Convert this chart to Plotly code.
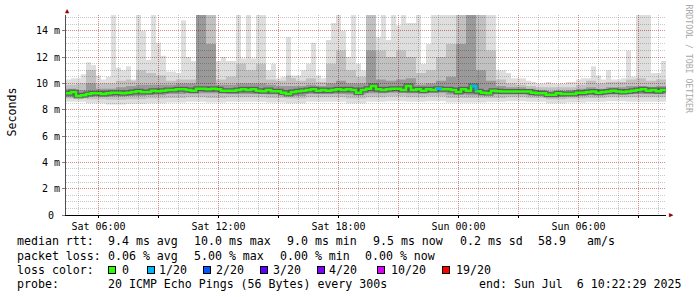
import pandas as pd
import plotly.graph_objects as go

# ---------------- data ----------------
END = pd.Timestamp("2025-07-06 10:22:29")
START = END - pd.Timedelta(hours=30)
t15 = pd.date_range(START, periods=121, freq="15min")
t30 = pd.date_range(START, periods=61, freq="30min")
t60 = pd.date_range(START, periods=31, freq="60min")

# median rtt (ms), 15-min bins
median_rtt = [9.25, 9.35, 9.05, 9.1, 9.2, 9.25, 9.25, 9.2, 9.25, 9.3,
              9.3, 9.25, 9.3, 9.35, 9.4, 9.35, 9.35, 9.45, 9.4, 9.45,
              9.5, 9.5, 9.55, 9.55, 9.5, 9.45, 9.6, 9.6, 9.55, 9.6,
              9.55, 9.45, 9.45, 9.45, 9.5, 9.55, 9.5, 9.55, 9.45, 9.4,
              9.5, 9.4, 9.4, 9.3, 9.2, 9.35, 9.4, 9.45, 9.5, 9.55,
              9.45, 9.5, 9.45, 9.5, 9.55, 9.5, 9.55, 9.5, 9.3, 9.5,
              9.6, 9.8, 9.55, 9.5, 9.55, 9.6, 9.6, 9.5, 9.8, 9.5,
              9.55, 9.45, 9.55, 9.5, 9.6, 9.55, 9.55, 9.5, 9.35, 9.55,
              9.45, 9.8, 9.4, 9.3, 9.25, 9.45, 9.4, 9.38, 9.38, 9.38,
              9.38, 9.38, 9.38, 9.3, 9.25, 9.25, 9.13, 9.13, 9.25, 9.2,
              9.2, 9.2, 9.3, 9.3, 9.35, 9.38, 9.3, 9.35, 9.38, 9.45,
              9.38, 9.35, 9.38, 9.45, 9.5, 9.55, 9.45, 9.5, 9.4, 9.5]

# lost pings per 15-min bin
loss = [0] * 74 + [1] + [0] * 6 + [1] + [0] * 38

# highest ping (ms), 15-min bins
rtt_max = [10.3, 10.4, 10.4, 10.7, 11.6, 11.4, 10.6, 10.3, 10.5, 15.2,
           11.2, 11.0, 11.3, 10.2, 15.2, 14.0, 11.8, 15.2, 13.1, 12.1,
           10.9, 10.9, 10.8, 14.8, 12.0, 11.7, 15.2, 15.2, 15.2, 15.2,
           11.7, 12.0, 11.7, 11.7, 15.2, 11.9, 15.2, 11.9, 15.2, 15.2,
           11.0, 11.5, 10.4, 10.5, 13.5, 10.4, 10.6, 11.0, 11.5, 13.1,
           10.6, 10.4, 13.3, 14.6, 15.2, 14.0, 12.0, 15.2, 11.5, 11.0,
           15.2, 15.2, 13.5, 15.2, 13.3, 15.2, 14.4, 15.2, 14.6, 14.6,
           15.2, 11.5, 13.0, 15.2, 15.2, 15.2, 15.2, 15.2, 15.2, 15.2,
           15.2, 15.2, 15.2, 15.2, 15.2, 15.2, 11.0, 11.0, 10.8, 10.4,
           10.4, 10.4, 10.2, 10.1, 10.0, 10.0, 10.1, 10.0, 10.0, 10.0,
           10.1, 10.1, 10.3, 10.4, 10.4, 11.3, 10.6, 10.3, 11.0, 10.3,
           10.3, 10.4, 12.5, 10.5, 15.2, 15.2, 15.2, 10.8, 10.8, 11.7]

# upper smoke bands (ms), 30-min bins
rtt_hi2 = [9.9, 10.0, 11.0, 10.0, 10.0, 10.2, 10.3, 11.0, 10.8, 10.6,
           10.2, 10.3, 10.3, 15.2, 15.2, 10.3, 10.5, 11.5, 11.0, 11.5,
           10.3, 10.2, 10.6, 10.2, 10.4, 10.1, 11.5, 12.5, 11.0, 10.5,
           15.2, 12.5, 12.0, 12.5, 12.0, 10.8, 11.0, 12.0, 13.0, 15.2,
           15.2, 15.2, 12.5, 10.3, 10.0, 9.9, 9.8, 9.7, 9.7, 9.7,
           9.7, 9.9, 10.2, 10.0, 10.1, 10.1, 10.3, 10.4, 10.2, 10.3]
rtt_hi3 = [9.6, 9.5, 10.0, 9.6, 9.6, 9.7, 9.8, 9.9, 9.9, 9.9,
           9.9, 10.0, 10.0, 15.2, 13.0, 9.9, 9.9, 10.0, 10.0, 10.0,
           9.9, 9.8, 9.8, 9.8, 9.9, 9.8, 10.0, 10.2, 10.0, 10.0,
           12.5, 10.3, 10.2, 10.3, 10.4, 9.9, 10.0, 10.2, 10.5, 13.0,
           15.2, 11.0, 10.2, 9.8, 9.7, 9.7, 9.6, 9.5, 9.4, 9.45,
           9.5, 9.6, 9.7, 9.6, 9.7, 9.7, 9.8, 9.8, 9.75, 9.8]

# lower smoke bands (ms), 1-hour bins
rtt_min = [8.6, 8.5, 8.4, 8.45, 8.5, 8.55, 8.6, 8.55, 8.6, 8.6,
           8.55, 8.5, 8.6, 8.6, 8.5, 8.6, 8.65, 8.6, 8.65, 8.55,
           8.55, 8.6, 8.65, 8.6, 8.5, 8.55, 8.6, 8.65, 8.6, 8.6]
rtt_lo2 = [8.85, 8.8, 8.75, 8.8, 8.85, 8.9, 8.95, 8.9, 8.95, 8.95,
           8.9, 8.85, 8.95, 8.95, 8.85, 8.95, 9.0, 8.95, 9.0, 8.9,
           8.9, 8.9, 8.95, 8.9, 8.8, 8.85, 8.9, 8.95, 8.95, 8.95]
rtt_lo3 = [8.95, 9.0, 9.0, 9.05, 9.1, 9.2, 9.25, 9.25, 9.2, 9.2,
           9.15, 9.05, 9.2, 9.2, 9.15, 9.25, 9.3, 9.25, 9.3, 9.15,
           9.1, 9.15, 9.15, 9.1, 9.0, 9.05, 9.1, 9.15, 9.2, 9.2]

# axis ticks
x_tick_times = ["2025-07-05 06:00", "2025-07-05 09:00", "2025-07-05 12:00",
                "2025-07-05 15:00", "2025-07-05 18:00", "2025-07-05 21:00",
                "2025-07-06 00:00", "2025-07-06 03:00", "2025-07-06 06:00",
                "2025-07-06 09:00"]
x_tick_labels = ["Sat 06:00", "", "Sat 12:00", "", "Sat 18:00", "",
                 "Sun 00:00", "", "Sun 06:00", ""]
y_tick_vals = [0, 2, 4, 6, 8, 10, 12, 14]
y_tick_labels = ["0\u00a0", "2 m", "4 m", "6 m", "8 m", "10 m", "12 m", "14 m"]

# legend
loss_counts = [0, 1, 2, 3, 4, 10, 19]
loss_labels = ["0", "1/20", "2/20", "3/20", "4/20", "10/20", "19/20"]
loss_colors = ["#26ff00", "#00b8ff", "#0059ff", "#5e00ff", "#7e00ff", "#dd00ff", "#ff0000"]
rtt_stats = ["9.4 ms avg", "10.0 ms max", "9.0 ms min", "9.5 ms now",
             "0.2 ms sd", "58.9", "am/s"]
loss_stats = ["0.06 % avg", "5.00 % max", "0.00 % min", "0.00 % now"]
probe_text = "20 ICMP Echo Pings (56 Bytes) every 300s"
end_text = "end: Sun Jul  6 10:22:29 2025"

# ---------------- figure ----------------
def ext(v):
    return list(v) + [v[-1]]

fig = go.Figure()

def band(tx, lo_tx, lo, hi, color):
    fig.add_trace(go.Scatter(x=lo_tx, y=ext(lo), mode="lines", line=dict(width=0, shape="hv"),
                             hoverinfo="skip", showlegend=False))
    fig.add_trace(go.Scatter(x=tx, y=ext(hi), mode="lines", line=dict(width=0, shape="hv"),
                             fill="tonexty", fillcolor=color, hoverinfo="skip", showlegend=False))

band(t15, t60, rtt_min, rtt_max, "rgba(0,0,0,0.13)")
band(t30, t60, rtt_lo2, rtt_hi2, "rgba(0,0,0,0.13)")
band(t30, t60, rtt_lo3, rtt_hi3, "rgba(0,0,0,0.2)")

fig.add_trace(go.Scatter(x=t15, y=ext(median_rtt), mode="lines",
                         line=dict(width=5, color="rgba(50,50,50,0.55)", shape="hv"),
                         hoverinfo="skip", showlegend=False))
fig.add_trace(go.Scatter(x=t15, y=ext(median_rtt), mode="lines",
                         line=dict(width=2.5, color=loss_colors[0], shape="hv"),
                         hoverinfo="skip", showlegend=False))
n = len(median_rtt)
for cnt, col in zip(loss_counts[1:], loss_colors[1:]):
    ys = [median_rtt[i] if (loss[i] == cnt or (i > 0 and loss[i - 1] == cnt)) else None
          for i in range(n)]
    if any(v is not None for v in ys):
        fig.add_trace(go.Scatter(x=t15, y=ext(ys), mode="lines", connectgaps=False,
                                 line=dict(width=2.5, color=col, shape="hv"),
                                 hoverinfo="skip", showlegend=False))

MONO = "DejaVu Sans Mono"
L, R, T, B = 66, 31, 15, 82
PW, PH = 697 - L - R, 297 - T - B

def px_x(px):
    return (px - L) / PW

def px_y(py):
    return (T + PH - py) / PH

ann = []
def text_at(px, py, s, size=11.6, color="black"):
    ann.append(dict(x=px_x(px), y=px_y(py), xref="paper", yref="paper", text=s.replace(" ", "\u00a0"),
                    showarrow=False, xanchor="left", yanchor="middle", borderpad=0,
                    font=dict(family=MONO, size=size, color=color)))

rows = [241, 255.5, 269.5, 283.5]
text_at(16, rows[0], "median rtt:")
for s, px in zip(rtt_stats, [107, 193, 286, 372, 459, 537, 586]):
    text_at(px, rows[0], s)
text_at(16, rows[1], "packet loss:")
for s, px in zip(loss_stats, [107, 193, 279, 364]):
    text_at(px, rows[1], s)
text_at(16, rows[2], "loss color:")
for lab, col, sq, tx in zip(loss_labels, loss_colors,
                            [108, 147, 203, 260, 317, 377, 442],
                            [121, 158, 215, 272, 328, 390, 455]):
    ann.append(dict(x=px_x(sq), y=px_y(rows[2]), xref="paper", yref="paper", text="\u00a0",
                    showarrow=False, xanchor="left", yanchor="middle", width=6, height=6,
                    bgcolor=col, bordercolor="black", borderwidth=1, borderpad=0,
                    font=dict(size=1)))
    text_at(tx, rows[2], lab)
text_at(16, rows[3], "probe:")
text_at(107, rows[3], probe_text)
text_at(478, rows[3], end_text)

# axis title & watermark
ann.append(dict(x=px_x(11), y=px_y(112.5), xref="paper", yref="paper", text="Seconds",
                textangle=-90, showarrow=False, xanchor="center", yanchor="middle",
                font=dict(family=MONO, size=11.6, color="black")))
ann.append(dict(x=px_x(688.5), y=px_y(59), xref="paper", yref="paper",
                text="RRDTOOL / TOBI OETIKER".replace(" ", "\u00a0"),
                textangle=90, showarrow=False, xanchor="center", yanchor="middle",
                font=dict(family=MONO, size=8.2, color="#a8a8a8")))
# axis arrows
ann.append(dict(x=px_x(67), y=px_y(10.5), xref="paper", yref="paper", text="▲",
                showarrow=False, xanchor="center", yanchor="middle",
                font=dict(family=MONO, size=7, color="#990000")))
ann.append(dict(x=px_x(671), y=px_y(215), xref="paper", yref="paper", text="▶",
                showarrow=False, xanchor="center", yanchor="middle",
                font=dict(family=MONO, size=7, color="#990000")))

MAJ = "rgba(255,0,0,0.3)"
MIN = "rgba(120,120,120,0.4)"

fig.update_layout(
    width=697, height=297,
    margin=dict(l=L, r=R, t=T, b=B, pad=0),
    paper_bgcolor="white", plot_bgcolor="white",
    showlegend=False,
    annotations=ann,
    xaxis=dict(type="date", range=[START, END], tickmode="array",
               tickvals=x_tick_times, ticktext=x_tick_labels,
               showgrid=True, gridcolor=MAJ, griddash="1px,1px", gridwidth=1,
               minor=dict(dtick=3600000, tick0="2025-07-05 00:00", showgrid=True,
                          gridcolor=MIN, griddash="1px,1px", gridwidth=1),
               showline=True, linecolor="black", linewidth=1,
               ticks="outside", ticklen=2, tickcolor="black",
               tickfont=dict(family=MONO, size=10, color="black"),
               zeroline=False, fixedrange=True),
    yaxis=dict(range=[0, 15.2], tickmode="array", tickvals=y_tick_vals, ticktext=y_tick_labels,
               showgrid=True, gridcolor=MAJ, griddash="1px,1px", gridwidth=1,
               minor=dict(dtick=0.5, showgrid=True, gridcolor=MIN, griddash="1px,1px", gridwidth=1),
               showline=True, linecolor="#505050", linewidth=1,
               ticks="outside", ticklen=3, tickcolor="#808080",
               tickfont=dict(family=MONO, size=10, color="black"),
               zeroline=False, fixedrange=True),
)

fig.write_html("out.html")
